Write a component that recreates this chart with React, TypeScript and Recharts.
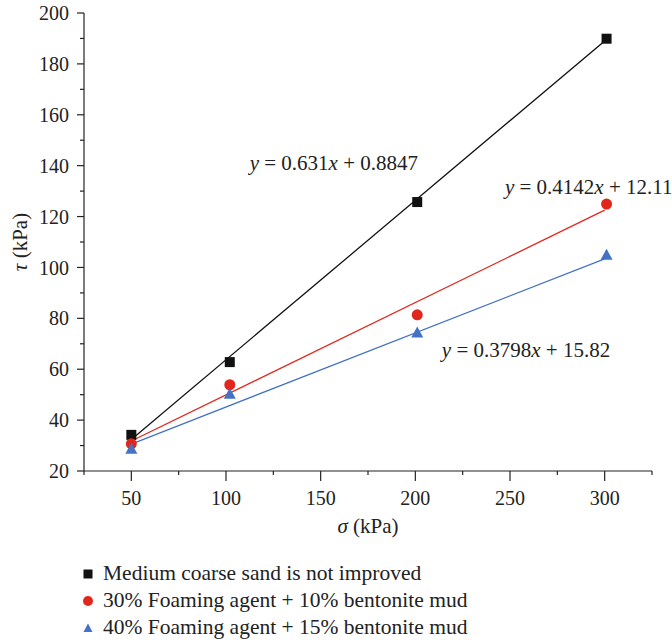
import { ComposedChart, Line, Scatter, XAxis, YAxis, Legend, ReferenceDot, Label } from "recharts";

const sigma = [50, 102, 201, 301];
const untreatedTau = [34.2, 62.8, 125.7, 189.9];
const foam30Tau = [30.7, 53.9, 81.4, 124.9];
const foam40Tau = [28.4, 50, 74, 104.6];

const fitX = [50, 300];
const untreatedFit = [32.4, 189];
const foam30Fit = [31.8, 122.5];
const foam40Fit = [30.6, 103.4];

const xTicks = [25, 50, 75, 100, 125, 150, 175, 200, 225, 250, 275, 300, 325];
const xMajor = [50, 100, 150, 200, 250, 300];
const yTicks = [20, 30, 40, 50, 60, 70, 80, 90, 100, 110, 120, 130, 140, 150, 160, 170, 180, 190, 200];
const yMajor = [20, 40, 60, 80, 100, 120, 140, 160, 180, 200];

const seriesNames = [
  "Medium coarse sand is not improved",
  "30% Foaming agent + 10% bentonite mud",
  "40% Foaming agent + 15% bentonite mud",
];
const colors = ["#111111", "#e1261c", "#4472c4"];

const equations = [
  { x: 112.5, y: 141.2, a: "0.631", b: "0.8847" },
  { x: 247.3, y: 131.7, a: "0.4142", b: "12.11" },
  { x: 214, y: 67.5, a: "0.3798", b: "15.82" },
];

const pts = (ys: number[]) => sigma.map((x, i) => ({ x, y: ys[i] }));
const fit = (ys: number[]) => fitX.map((x, i) => ({ x, y: ys[i] }));

const FONT = "'Liberation Serif', 'Times New Roman', serif";
const AXIS = "#222";

const YTick = (props: any) => {
  const { x, y, payload } = props;
  const major = yMajor.includes(payload.value);
  const axisX = x + 8 + 7;
  return (
    <g>
      <line x1={axisX - (major ? 7 : 4)} x2={axisX} y1={y} y2={y} stroke={AXIS} strokeWidth={1.2} />
      {major && (
        <text x={x} y={y} dy="0.355em" textAnchor="end" fontSize={20} fontFamily={FONT} fill="#222">
          {payload.value}
        </text>
      )}
    </g>
  );
};

const XTick = (props: any) => {
  const { x, y, payload } = props;
  const major = xMajor.includes(payload.value);
  const axisY = y - 10 - 10;
  return (
    <g>
      <line x1={x} x2={x} y1={axisY} y2={axisY + (major ? 10 : 4)} stroke={AXIS} strokeWidth={1.2} />
      {major && (
        <text x={x} y={y} dy="0.71em" textAnchor="middle" fontSize={20} fontFamily={FONT} fill="#222">
          {payload.value}
        </text>
      )}
    </g>
  );
};

const Square = (props: any) => (
  <rect x={props.cx - 5} y={props.cy - 5} width={10} height={10} fill={colors[0]} />
);
const Circle = (props: any) => <circle cx={props.cx} cy={props.cy} r={5.5} fill={colors[1]} />;
const Triangle = (props: any) => {
  const { cx, cy } = props;
  return <path d={`M${cx},${cy - 7} L${cx + 6},${cy + 4} L${cx - 6},${cy + 4} Z`} fill={colors[2]} />;
};

const LegendIcon = ({ i }: { i: number }) => (
  <svg width={12} height={12} style={{ marginRight: 9 }}>
    {i === 0 && <rect x={1.5} y={1.5} width={9} height={9} fill={colors[0]} />}
    {i === 1 && <circle cx={6} cy={6} r={5} fill={colors[1]} />}
    {i === 2 && <path d="M6,1.5 L10.5,10 L1.5,10 Z" fill={colors[2]} />}
  </svg>
);

const LegendBox = () => (
  <div style={{ height: 84, paddingLeft: 82, boxSizing: "border-box" }}>
    {seriesNames.map((n, i) => (
      <div key={n} style={{ display: "flex", alignItems: "center", height: 27 }}>
        <LegendIcon i={i} />
        <span style={{ fontFamily: FONT, fontSize: 21.5, color: "#222", whiteSpace: "nowrap" }}>{n}</span>
      </div>
    ))}
  </div>
);

const EqLabel = ({ cx, cy, a, b }: any) => (
  <text x={cx} y={cy} dy="0.35em" fontSize={21} fontFamily={FONT} fill="#222">
    <tspan fontStyle="italic">y</tspan>
    {` = ${a}`}
    <tspan fontStyle="italic">x</tspan>
    {` + ${b}`}
  </text>
);

export default function App() {
  return (
    <div style={{ position: "absolute", left: 0, top: 0, width: 672, height: 644, background: "#fff" }}>
      <ComposedChart width={672} height={644} margin={{ top: 13, right: 20, bottom: 0, left: 0 }}>
        <XAxis
          type="number"
          dataKey="x"
          domain={[25, 325]}
          ticks={xTicks}
          interval={0}
          tickSize={10}
          tickMargin={10}
          tickLine={false}
          tick={<XTick />}
          height={89}
          axisLine={{ stroke: AXIS, strokeWidth: 1.2 }}
        >
          <Label
            content={({ viewBox }: any) => (
              <text
                x={viewBox.x + viewBox.width / 2}
                y={viewBox.y + 62}
                textAnchor="middle"
                fontSize={21}
                fontFamily={FONT}
                fill="#222"
              >
                <tspan fontStyle="italic">σ</tspan> (kPa)
              </text>
            )}
          />
        </XAxis>
        <YAxis
          type="number"
          dataKey="y"
          domain={[20, 200]}
          ticks={yTicks}
          interval={0}
          tickSize={7}
          tickMargin={8}
          tickLine={false}
          tick={<YTick />}
          width={84}
          axisLine={{ stroke: AXIS, strokeWidth: 1.2 }}
        >
          <Label
            content={({ viewBox }: any) => {
              const cy = viewBox.y + viewBox.height / 2;
              return (
                <text
                  x={20}
                  y={cy}
                  dy="0.35em"
                  transform={`rotate(-90, 20, ${cy})`}
                  textAnchor="middle"
                  fontSize={21}
                  fontFamily={FONT}
                  fill="#222"
                >
                  <tspan fontStyle="italic">τ</tspan> (kPa)
                </text>
              );
            }}
          />
        </YAxis>
        <Legend verticalAlign="bottom" wrapperStyle={{ left: 0, width: 672 }} content={() => <LegendBox />} />
        <Line data={fit(untreatedFit)} dataKey="y" stroke={colors[0]} strokeWidth={1.3} dot={false} isAnimationActive={false} />
        <Line data={fit(foam30Fit)} dataKey="y" stroke={colors[1]} strokeWidth={1.3} dot={false} isAnimationActive={false} />
        <Line data={fit(foam40Fit)} dataKey="y" stroke={colors[2]} strokeWidth={1.3} dot={false} isAnimationActive={false} />
        <Scatter data={pts(untreatedTau)} dataKey="y" shape={<Square />} isAnimationActive={false} />
        <Scatter data={pts(foam30Tau)} dataKey="y" shape={<Circle />} isAnimationActive={false} />
        <Scatter data={pts(foam40Tau)} dataKey="y" shape={<Triangle />} isAnimationActive={false} />
        {equations.map((e) => (
          <ReferenceDot
            key={e.a}
            x={e.x}
            y={e.y}
            r={0}
            ifOverflow="visible"
            shape={(p: any) => <EqLabel cx={p.cx} cy={p.cy} a={e.a} b={e.b} />}
          />
        ))}
      </ComposedChart>
    </div>
  );
}
